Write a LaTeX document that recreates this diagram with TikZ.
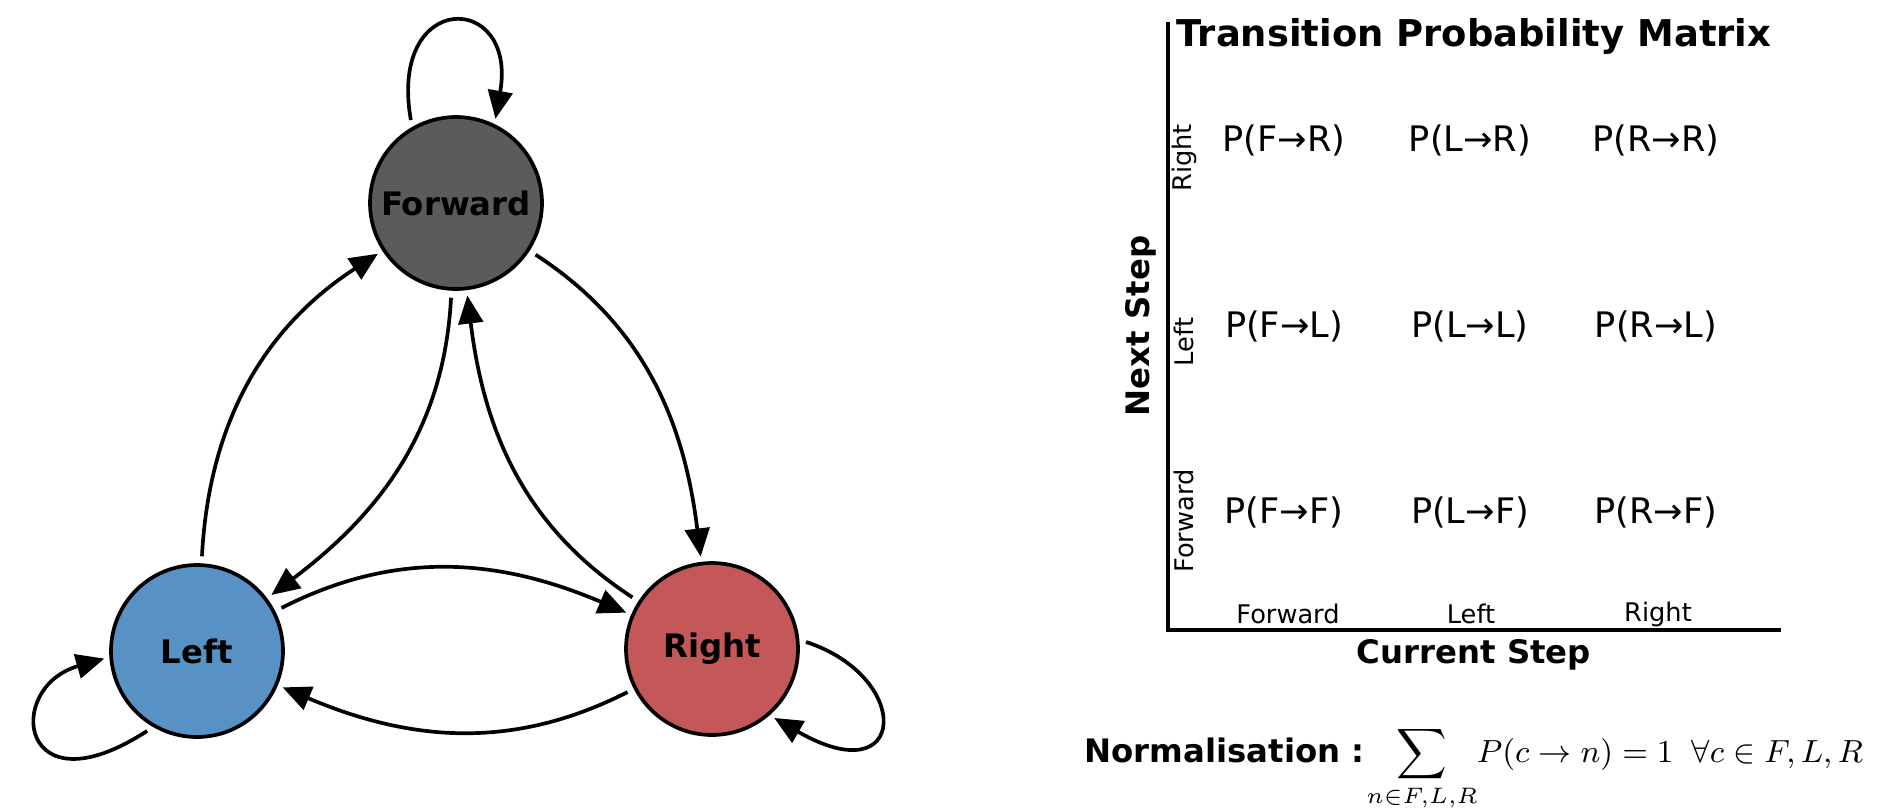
\RequirePackage{fix-cm}
\documentclass[tikz,border=0pt]{standalone}
\usepackage[no-math]{fontspec}
\setmainfont{DejaVu Sans}
\usetikzlibrary{arrows.meta}
\definecolor{fwdgray}{RGB}{91,91,91}
\definecolor{leftblue}{RGB}{88,146,196}
\definecolor{rightred}{RGB}{196,88,88}

\begin{document}
\begin{tikzpicture}[
    estado/.style={circle, draw=black, line width=1.05pt, minimum size=1.72cm, inner sep=0pt,
        font=\bfseries\fontsize{9.2}{11}\selectfont},
    trans/.style={-{Triangle[length=8pt,width=7pt]}, line width=1.05pt,
        shorten <=2pt, shorten >=1.5pt},
    celula/.style={font=\fontsize{10}{12}\selectfont},
    rotulo/.style={font=\fontsize{7.3}{9}\selectfont},
    eixo/.style={font=\bfseries\fontsize{9.2}{11}\selectfont}
]
    \useasboundingbox (0,0) rectangle (18.96,8.10);
    % Estados da cadeia
    \node[estado, fill=fwdgray]  (F) at (4.56,6.07) {Forward};
    \node[estado, fill=leftblue] (L) at (1.97,1.59) {Left};
    \node[estado, fill=rightred] (R) at (7.12,1.61) {Right};
    % Transicoes entre estados
    \draw[trans] (F) to[out=-33, in=97] (R);
    \draw[trans] (R) to[out=147, in=-83] (F);
    \draw[trans] (F) to[out=-93, in=37] (L);
    \draw[trans] (L) to[out=87, in=213] (F);
    \draw[trans] (L) to[out=27, in=157] (R);
    \draw[trans] (R) to[out=207, in=-23] (L);
    % Lacos (permanecer no estado)
    \draw[trans] (F.120) .. controls +(100:1.4) and +(80:1.35) .. (F.64);
    \draw[trans] (L.240) .. controls +(213:1.6) and +(196:1.1) .. (L.184);
    \draw[trans] (R.6) .. controls +(-18:1.2) and +(-30:1.6) .. (R.-49);
    % Eixos da matriz
    \coordinate (topo) at (11.68,7.88);
    \coordinate (origem) at (11.68,1.80);
    \coordinate (fim) at (17.81,1.80);
    \draw[line width=1pt] (topo) -- (origem) -- (fim);
    \node[anchor=base, font=\bfseries\fontsize{10.5}{12}\selectfont] (titulo) at (14.74,7.64) {Transition Probability Matrix};
    \node[eixo] (xlabel) at (14.74,1.55) {Current Step};
    \node[eixo, rotate=90] (ylabel) at (11.41,4.84) {Next Step};
    % Rotulos das linhas e colunas
    \node[rotulo, rotate=90] (linR) at (11.84,6.52) {Right};
    \node[rotulo, rotate=90] (linL) at (11.84,4.68) {Left};
    \node[rotulo, rotate=90] (linF) at (11.84,2.89) {Forward};
    \node[rotulo] (colF) at (12.88,1.96) {Forward};
    \node[rotulo] (colL) at (14.71,1.96) {Left};
    \node[rotulo] (colR) at (16.58,1.96) {Right};
    % Entradas da matriz
    \node[celula] (FR) at (12.84,6.70) {P(F→R)};
    \node[celula] (LR) at (14.70,6.70) {P(L→R)};
    \node[celula] (RR) at (16.56,6.70) {P(R→R)};
    \node[celula] (FL) at (12.84,4.84) {P(F→L)};
    \node[celula] (LL) at (14.70,4.84) {P(L→L)};
    \node[celula] (RL) at (16.56,4.84) {P(R→L)};
    \node[celula] (FF) at (12.84,2.98) {P(F→F)};
    \node[celula] (LF) at (14.70,2.98) {P(L→F)};
    \node[celula] (RF) at (16.56,2.98) {P(R→F)};
    % Normalizacao
    \node[anchor=base west, inner sep=0pt] (norma) at (10.84,0.48)
        {{\bfseries\fontsize{9.2}{11}\selectfont Normalisation :}\fontsize{9.1}{11}\selectfont\hspace{3.2mm}$\displaystyle\sum_{\hbox to 0pt{\hss$\scriptstyle n\in F,L,R$\hss}}\hspace{2.4mm} P(c\to n)=1\;\;\forall c\in F,L,R$};
\end{tikzpicture}
\end{document}
